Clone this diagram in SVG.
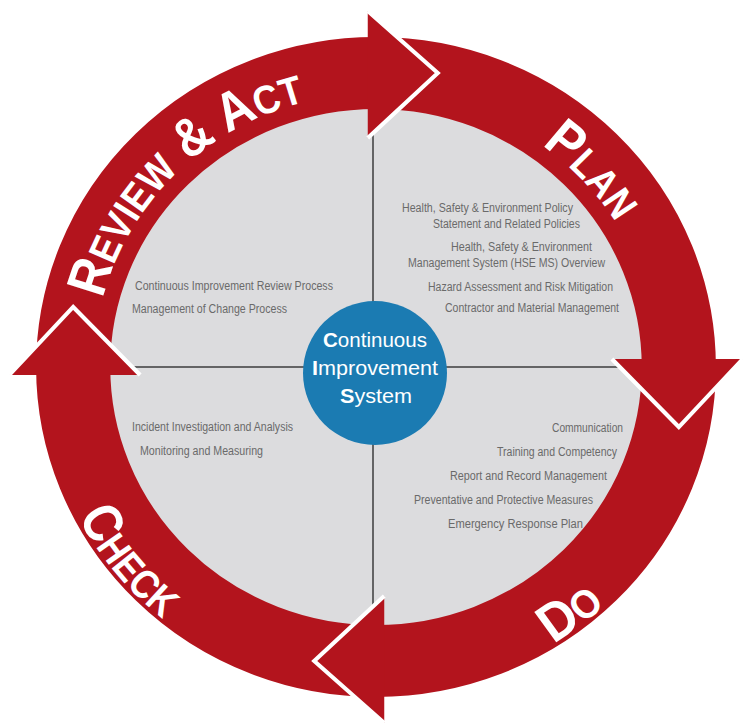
<svg xmlns="http://www.w3.org/2000/svg" width="750" height="726" viewBox="0 0 750 726">
<defs>
<style>
.item{font-family:"Liberation Sans",Arial,sans-serif;font-size:12px;fill:#6a6a6a}
.core{font-family:"Liberation Sans",Arial,sans-serif;font-size:21px;fill:#ffffff}
.b{font-weight:bold}
.lbl{font-family:"Liberation Sans",Arial,sans-serif;font-weight:bold;fill:#ffffff}
.big{font-size:54px}
.sm{font-size:40px}
.axis{stroke:#3c3c3c;stroke-width:1.5}
.red{fill:#b3141d}
</style>
<g id="head-shape">
<polygon class="red" points="-8,-356 60,-294 -8,-229"/>
<polyline points="-8,-356 60,-294 -8,-229" fill="none" stroke="#ffffff" stroke-width="4" stroke-linejoin="miter"/>
</g>
<path id="pRev" d="M-264.7,70.9 A274,274 0 0 1 70.9,-264.7"/>
<path id="pPlan" d="M33.4,-271.9 A274,274 0 0 1 273.6,-14.3"/>
<path id="pDo" d="M-14.2,325.7 A326,326 0 0 0 318.3,70.6"/>
<path id="pCheck" d="M-325.9,-5.7 A326,326 0 0 0 -62.2,320.0"/>
</defs>
<rect width="750" height="726" fill="#ffffff"/>
<g id="disc" transform="translate(376,367) scale(1.03,1)">
<circle r="259" fill="#dcdcde"/>
</g>
<g id="connectors">
<line class="axis" x1="373" y1="108" x2="373" y2="626"/>
<line class="axis" x1="106" y1="367" x2="646" y2="367"/>
</g>
<g id="cycle" transform="translate(376,367) scale(1.03,1)">
<circle id="ring" r="294" fill="none" stroke="#b3141d" stroke-width="72"/>
<g id="head-review"><use href="#head-shape"/></g>
<g id="head-plan"><use href="#head-shape" transform="rotate(90)"/></g>
<g id="head-do"><use href="#head-shape" transform="rotate(180)"/></g>
<g id="head-check"><use href="#head-shape" transform="rotate(270)"/></g>
<g id="label-review"><text class="lbl"><textPath href="#pRev" startOffset="50%" text-anchor="middle" textLength="292" lengthAdjust="spacingAndGlyphs"><tspan class="big">R</tspan><tspan class="sm">EVIEW</tspan><tspan class="big"> &amp; A</tspan><tspan class="sm">CT</tspan></textPath></text></g>
<g id="label-plan"><text class="lbl"><textPath href="#pPlan" startOffset="50%" text-anchor="middle" textLength="106" lengthAdjust="spacingAndGlyphs"><tspan class="big">P</tspan><tspan class="sm">LAN</tspan></textPath></text></g>
<g id="label-do"><text class="lbl"><textPath href="#pDo" startOffset="50%" text-anchor="middle" textLength="64" lengthAdjust="spacingAndGlyphs"><tspan class="big">D</tspan><tspan class="sm">O</tspan></textPath></text></g>
<g id="label-check"><text class="lbl"><textPath href="#pCheck" startOffset="50%" text-anchor="middle" textLength="132" lengthAdjust="spacingAndGlyphs"><tspan class="big">C</tspan><tspan class="sm">HECK</tspan></textPath></text></g>
</g>
<g id="center">
<circle cx="375" cy="373" r="72" fill="#1b7bb2"/>
<text class="core" x="323" y="347" textLength="104" lengthAdjust="spacingAndGlyphs"><tspan class="b">C</tspan>ontinuous</text>
<text class="core" x="312" y="375" textLength="126" lengthAdjust="spacingAndGlyphs"><tspan class="b">I</tspan>mprovement</text>
<text class="core" x="340" y="403" textLength="72" lengthAdjust="spacingAndGlyphs"><tspan class="b">S</tspan>ystem</text>
</g>
<g id="plan-items">
<text class="item" x="402" y="212" textLength="171" lengthAdjust="spacingAndGlyphs">Health, Safety &amp; Environment Policy</text>
<text class="item" x="433" y="228" textLength="147" lengthAdjust="spacingAndGlyphs">Statement and Related Policies</text>
<text class="item" x="451" y="251" textLength="141" lengthAdjust="spacingAndGlyphs">Health, Safety &amp; Environment</text>
<text class="item" x="408" y="267" textLength="197" lengthAdjust="spacingAndGlyphs">Management System (HSE MS) Overview</text>
<text class="item" x="428" y="291" textLength="185" lengthAdjust="spacingAndGlyphs">Hazard Assessment and Risk Mitigation</text>
<text class="item" x="445" y="312" textLength="174" lengthAdjust="spacingAndGlyphs">Contractor and Material Management</text>
</g>
<g id="do-items">
<text class="item" x="552" y="432" textLength="71" lengthAdjust="spacingAndGlyphs">Communication</text>
<text class="item" x="497" y="456" textLength="120" lengthAdjust="spacingAndGlyphs">Training and Competency</text>
<text class="item" x="450" y="480" textLength="157" lengthAdjust="spacingAndGlyphs">Report and Record Management</text>
<text class="item" x="414" y="504" textLength="179" lengthAdjust="spacingAndGlyphs">Preventative and Protective Measures</text>
<text class="item" x="448" y="528" textLength="135" lengthAdjust="spacingAndGlyphs">Emergency Response Plan</text>
</g>
<g id="review-items">
<text class="item" x="135" y="290" textLength="198" lengthAdjust="spacingAndGlyphs">Continuous Improvement Review Process</text>
<text class="item" x="132" y="313" textLength="155" lengthAdjust="spacingAndGlyphs">Management of Change Process</text>
</g>
<g id="check-items">
<text class="item" x="132" y="431" textLength="161" lengthAdjust="spacingAndGlyphs">Incident Investigation and Analysis</text>
<text class="item" x="140" y="455" textLength="123" lengthAdjust="spacingAndGlyphs">Monitoring and Measuring</text>
</g>
</svg>
